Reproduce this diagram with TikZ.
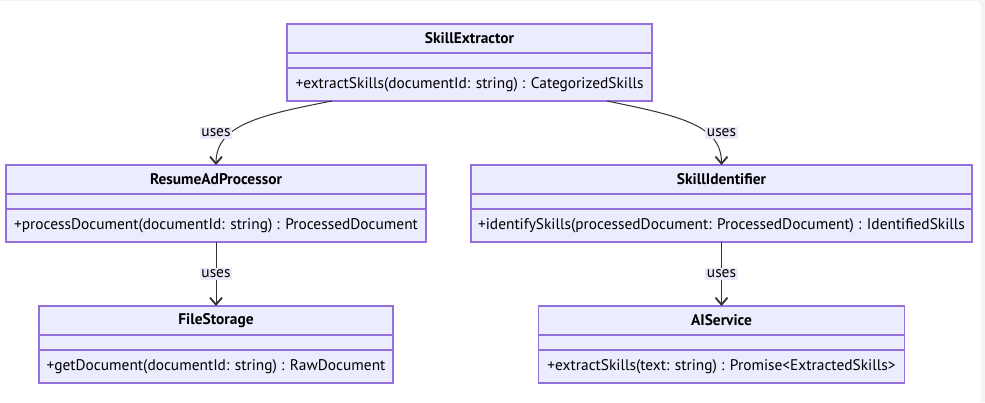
\documentclass[tikz,border=0pt]{standalone}
\usepackage{fontspec}
\setmainfont{PT Sans}
\usetikzlibrary{positioning,arrows.meta}

\definecolor{classfill}{HTML}{ECECFF}
\definecolor{classline}{HTML}{9370DB}
\definecolor{edgeline}{HTML}{333333}
\definecolor{labelfill}{HTML}{E8E8F8}
\definecolor{panelgray}{HTML}{F4F4F4}

\tikzset{
    classpart/.style={draw=classline, fill=classfill, line width=1.2pt, inner sep=0pt, outer sep=0pt, font=\fontsize{15.4}{18}\selectfont},
    classhead/.style={classpart, minimum height=29pt, font=\fontsize{15.4}{18}\selectfont\bfseries},
    classgap/.style={classpart, minimum height=15pt},
    classbody/.style={classpart, minimum height=33pt},
    uses/.style={draw=edgeline, line width=1pt, -{Straight Barb[length=7pt,width=12pt,line width=1.8pt]}},
    useslabel/.style={fill=labelfill, inner sep=1.5pt, font=\fontsize{15.4}{18}\selectfont}
}

\begin{document}
\begin{tikzpicture}[x=1pt, y=-1pt]

    \useasboundingbox (0,0) rectangle (985,402);
    \fill[panelgray] (0,0) rectangle (985,402);
    \fill[white, rounded corners=5pt] (-10,1) rectangle (981,412);

    \node[classhead, minimum width=365pt] (sehead) at (469.5,38.5) {SkillExtractor};
    \node[classgap, minimum width=365pt, below=0pt of sehead] (segap) {};
    \node[classbody, minimum width=365pt, below=0pt of segap] (sebody) {+extractSkills(documentId: string) : CategorizedSkills};

    \node[classhead, minimum width=420pt] (raphead) at (216,179.5) {ResumeAdProcessor};
    \node[classgap, minimum width=420pt, below=0pt of raphead] (rapgap) {};
    \node[classbody, minimum width=420pt, below=0pt of rapgap] (rapbody) {+processDocument(documentId: string) : ProcessedDocument};

    \node[classhead, minimum width=501pt] (sihead) at (721.5,179.5) {SkillIdentifier};
    \node[classgap, minimum width=501pt, below=0pt of sihead] (sigap) {};
    \node[classbody, minimum width=501pt, below=0pt of sigap] (sibody) {+identifySkills(processedDocument: ProcessedDocument) : IdentifiedSkills};

    \node[classhead, minimum width=354pt] (fshead) at (216,320.5) {FileStorage};
    \node[classgap, minimum width=354pt, below=0pt of fshead] (fsgap) {};
    \node[classbody, minimum width=354pt, below=0pt of fsgap] (fsbody) {+getDocument(documentId: string) : RawDocument};

    \node[classhead, minimum width=366pt] (aihead) at (721.5,320.5) {AIService};
    \node[classgap, minimum width=366pt, below=0pt of aihead] (aigap) {};
    \node[classbody, minimum width=366pt, below=0pt of aigap] (aibody) {+extractSkills(text: string) : Promise<ExtractedSkills>};

    \draw[uses] ([xshift=-137.5pt]sebody.south) .. controls +(-72,14) and +(0,-40) .. (raphead.north);
    \draw[uses] ([xshift=137.5pt]sebody.south) .. controls +(73,15) and +(0,-40) .. (sihead.north);
    \draw[uses] (rapbody.south) -- (fshead.north);
    \draw[uses] (sibody.south) -- (aihead.north);

    \node[useslabel] (usesrap) at (216,133) {uses};
    \node[useslabel] (usessi) at (721.5,133) {uses};
    \node[useslabel] (usesfs) at (216,274) {uses};
    \node[useslabel] (usesai) at (721.5,274) {uses};

\end{tikzpicture}
\end{document}
